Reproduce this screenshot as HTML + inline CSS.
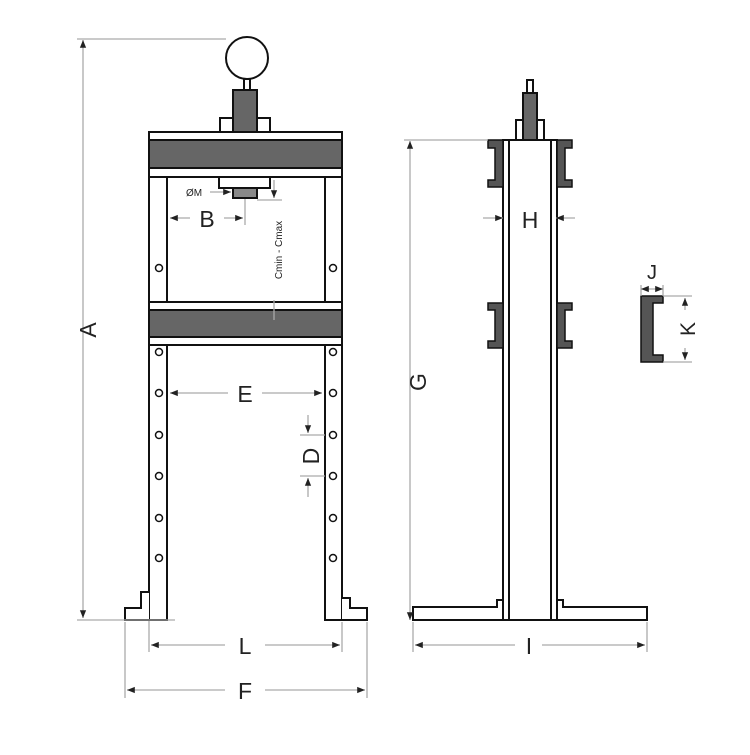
<!DOCTYPE html>
<html><head><style>html,body{margin:0;padding:0;background:#fff}</style></head><body>
<svg width="750" height="750" viewBox="0 0 750 750" xmlns="http://www.w3.org/2000/svg" font-family="Liberation Sans, sans-serif">
<defs>
<marker id="ar" viewBox="0 0 10 10" refX="10" refY="5" markerWidth="6" markerHeight="6" orient="auto-start-reverse"><path d="M0,1 L10,5 L0,9z" fill="#222"/></marker>
</defs>
<g stroke="#111" stroke-width="2" fill="#fff">
<circle cx="247" cy="58" r="21"/>
<rect x="244" y="79" width="6" height="12"/>
<rect x="220" y="118" width="50" height="14"/>
<rect x="233" y="90" width="24" height="42" fill="#666"/>
<rect x="149" y="132" width="18" height="488"/>
<rect x="325" y="132" width="17" height="488"/>
<path d="M149,620 L125,620 L125,608 L141,608 L141,592 L149,592"/>
<path d="M342,620 L367,620 L367,608 L350,608 L350,598 L342,598"/>
<rect x="167" y="177" width="158" height="125"/>
<rect x="149" y="132" width="193" height="45"/>
<rect x="149" y="140" width="193" height="28" fill="#666"/>
<rect x="219" y="177" width="51" height="11"/>
<rect x="233" y="188" width="24" height="10" fill="#888"/>
<rect x="149" y="302" width="193" height="43"/>
<rect x="149" y="310" width="193" height="27" fill="#666"/>
</g>
<g stroke="#111" stroke-width="1.5" fill="#fff">
<circle cx="159" cy="268" r="3.5"/><circle cx="333" cy="268" r="3.5"/>
<circle cx="159" cy="352" r="3.5"/><circle cx="333" cy="352" r="3.5"/>
<circle cx="159" cy="393" r="3.5"/><circle cx="333" cy="393" r="3.5"/>
<circle cx="159" cy="435" r="3.5"/><circle cx="333" cy="435" r="3.5"/>
<circle cx="159" cy="476" r="3.5"/><circle cx="333" cy="476" r="3.5"/>
<circle cx="159" cy="518" r="3.5"/><circle cx="333" cy="518" r="3.5"/>
<circle cx="159" cy="558" r="3.5"/><circle cx="333" cy="558" r="3.5"/>
</g>
<g stroke="#111" stroke-width="2" fill="#fff">
<rect x="527" y="80" width="6" height="13"/>
<rect x="516" y="120" width="28" height="20"/>
<rect x="523" y="93" width="14" height="47" fill="#666"/>
<path d="M413,607 L497,607 L497,600 L503,600 L503,620 L413,620 Z"/>
<path d="M647,607 L563,607 L563,600 L557,600 L557,620 L647,620 Z"/>
<rect x="503" y="140" width="54" height="480"/>
<line x1="509" y1="140" x2="509" y2="620"/>
<line x1="551" y1="140" x2="551" y2="620"/>
</g>
<g fill="#555" stroke="#111" stroke-width="1.5">
<path d="M488,140 H503 V187 H488 V180 H495 V148 H488 Z"/>
<path d="M572,140 H557 V187 H572 V180 H565 V148 H572 Z"/>
<path d="M488,303 H503 V348 H488 V341 H495 V310 H488 Z"/>
<path d="M572,303 H557 V348 H572 V341 H565 V310 H572 Z"/>
<path d="M641,296 H663 V303 H653 V355 H663 V362 H641 Z"/>
</g>
<g stroke="#aaa" stroke-width="1.3" fill="none">
<line x1="77" y1="39" x2="226" y2="39"/>
<line x1="83" y1="40" x2="83" y2="618" marker-start="url(#ar)" marker-end="url(#ar)"/>
<line x1="77" y1="620" x2="175" y2="620"/>
<line x1="404" y1="140" x2="488" y2="140"/>
<line x1="410" y1="141" x2="410" y2="620" marker-start="url(#ar)" marker-end="url(#ar)"/>
<line x1="149" y1="621" x2="149" y2="652"/>
<line x1="342" y1="622" x2="342" y2="652"/>
<line x1="125" y1="622" x2="125" y2="698"/>
<line x1="367" y1="622" x2="367" y2="698"/>
<line x1="151" y1="645" x2="225" y2="645" marker-start="url(#ar)"/>
<line x1="265" y1="645" x2="340" y2="645" marker-end="url(#ar)"/>
<line x1="127" y1="690" x2="225" y2="690" marker-start="url(#ar)"/>
<line x1="265" y1="690" x2="365" y2="690" marker-end="url(#ar)"/>
<line x1="413" y1="622" x2="413" y2="652"/>
<line x1="647" y1="622" x2="647" y2="652"/>
<line x1="415" y1="645" x2="515" y2="645" marker-start="url(#ar)"/>
<line x1="542" y1="645" x2="645" y2="645" marker-end="url(#ar)"/>
<line x1="170" y1="393" x2="228" y2="393" marker-start="url(#ar)"/>
<line x1="262" y1="393" x2="322" y2="393" marker-end="url(#ar)"/>
<line x1="300" y1="435" x2="325" y2="435"/>
<line x1="300" y1="476" x2="325" y2="476"/>
<line x1="308" y1="415" x2="308" y2="433" marker-end="url(#ar)"/>
<line x1="308" y1="497" x2="308" y2="478" marker-end="url(#ar)"/>
<line x1="170" y1="218" x2="190" y2="218" marker-start="url(#ar)"/>
<line x1="224" y1="218" x2="243" y2="218" marker-end="url(#ar)"/>
<line x1="245" y1="199" x2="245" y2="225"/>
<line x1="210" y1="192" x2="231" y2="192" marker-end="url(#ar)"/>
<line x1="257" y1="200" x2="282" y2="200"/>
<line x1="274" y1="180" x2="274" y2="198" marker-end="url(#ar)"/>
<line x1="274" y1="300" x2="274" y2="320"/>
<line x1="483" y1="218" x2="503" y2="218" marker-end="url(#ar)"/>
<line x1="575" y1="218" x2="556" y2="218" marker-end="url(#ar)"/>
<line x1="641" y1="285" x2="641" y2="296"/>
<line x1="663" y1="285" x2="663" y2="296"/>
<line x1="641" y1="289" x2="663" y2="289" marker-start="url(#ar)" marker-end="url(#ar)"/>
<line x1="663" y1="296" x2="692" y2="296"/>
<line x1="663" y1="362" x2="692" y2="362"/>
<line x1="685" y1="310" x2="685" y2="298" marker-end="url(#ar)"/>
<line x1="685" y1="348" x2="685" y2="360" marker-end="url(#ar)"/>
</g>
<g fill="#222" font-size="23">
<text x="207" y="227" text-anchor="middle">B</text>
<text x="245" y="402" text-anchor="middle">E</text>
<text x="245" y="654" text-anchor="middle">L</text>
<text x="245" y="699" text-anchor="middle">F</text>
<text x="529" y="654" text-anchor="middle">I</text>
<text x="530" y="228" text-anchor="middle">H</text>
<text x="652" y="279" text-anchor="middle" font-size="20">J</text>
<text transform="translate(96,330) rotate(-90)" text-anchor="middle">A</text>
<text transform="translate(426,382) rotate(-90)" text-anchor="middle">G</text>
<text transform="translate(319,456) rotate(-90)" text-anchor="middle">D</text>
<text transform="translate(695,329) rotate(-90)" text-anchor="middle" font-size="21">K</text>
<text x="186" y="196" font-size="10">ØM</text>
<text transform="translate(282,250) rotate(-90)" text-anchor="middle" font-size="10">Cmin - Cmax</text>
</g>
</svg>
</body></html>
